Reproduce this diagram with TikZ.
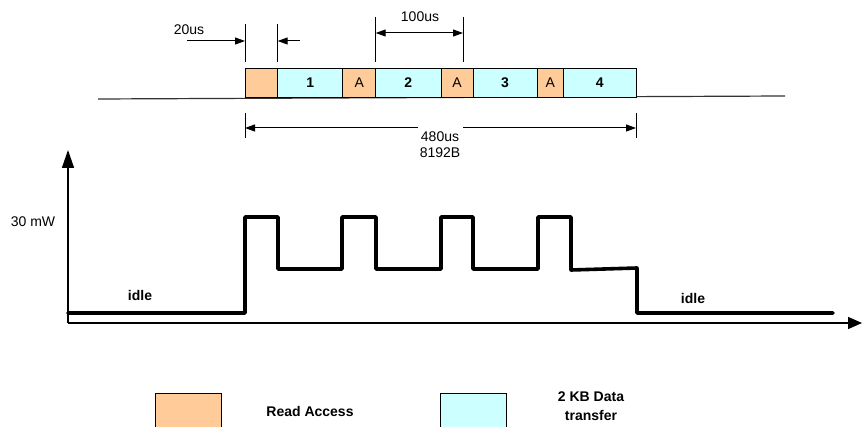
\documentclass[tikz,border=0pt]{standalone}
\usepackage{fontspec}
\setmainfont{Liberation Sans}
\usepackage{xcolor}
\definecolor{AccessOrange}{HTML}{FFCC99}
\definecolor{XferCyan}{HTML}{CCFFFF}
\usepackage{tikz}
\usetikzlibrary{arrows.meta,positioning}

\begin{document}
\begin{tikzpicture}[x=1pt, y=-1pt, >={Triangle[length=10pt,width=7pt]}, node distance=0pt,
  every node/.style={font=\fontsize{14}{19}\selectfont, align=center, inner sep=0pt, outer sep=0pt},
  rd/.style={draw, line width=0.8pt, fill=AccessOrange, minimum height=29pt},
  xfer/.style={draw, line width=0.8pt, fill=XferCyan, minimum height=29pt, font=\fontsize{14}{16}\selectfont\bfseries},
  dim/.style={line width=1pt},
  wave/.style={line width=3.6pt, line join=round, line cap=round}]
  \useasboundingbox (0,0) rectangle (862,427);

  % time line with the accesses and transfers
  \coordinate (baseL) at (98,99);
  \coordinate (baseR) at (785,96);
  \draw[line width=1.2pt, black!80] (baseL) -- (baseR);
  \node[rd, minimum width=32.7pt, anchor=north west] (r0) at (245,68) {};
  \node[xfer, minimum width=65pt, right=of r0] (x1) {1};
  \node[rd, minimum width=33pt, right=of x1] (a1) {A};
  \node[xfer, minimum width=65.3pt, right=of a1] (x2) {2};
  \node[rd, minimum width=32pt, right=of x2] (a2) {A};
  \node[xfer, minimum width=64pt, right=of a2] (x3) {3};
  \node[rd, minimum width=26.7pt, right=of x3] (a3) {A};
  \node[xfer, minimum width=72.3pt, right=of a3] (x4) {4};

  % 20us
  \draw[dim] (r0.north west |- 0,24) -- (r0.north west |- 0,62);
  \draw[dim] (x1.north west |- 0,24) -- (x1.north west |- 0,62);
  \node (t20) at (189,30) {20us};
  \coordinate (in20) at (187,41);
  \coordinate (out20) at (300,41);
  \draw[dim, ->] (in20) -- (in20 -| r0.north west);
  \draw[dim, ->] (out20) -- (out20 -| x1.north west);

  % 100us
  \coordinate (e100) at (463,17);
  \draw[dim] (x2.north west |- 0,17) -- (x2.north west |- 0,62);
  \draw[dim] (e100) -- (e100 |- 0,62);
  \node (t100) at (420,17) {100us};
  \draw[dim, <->] (x2.north west |- 0,33) -- (e100 |- 0,33);

  % 480us
  \draw[dim] (r0.south west |- 0,113) -- (r0.south west |- 0,138);
  \draw[dim] (x4.south east |- 0,113) -- (x4.south east |- 0,138);
  \node (t480) at (440,137) {480us};
  \node (b8192) at (440,153) {8192B};
  \coordinate (m480) at (440,128);
  \draw[dim, ->] ([xshift=-22pt]m480) -- (m480 -| r0.south west);
  \draw[dim, ->] ([xshift=23pt]m480) -- (m480 -| x4.south east);

  % power over time
  \coordinate (origin) at (68,323);
  \coordinate (ytip) at (68,150);
  \coordinate (xtip) at (862,323);
  \draw[line width=1.5pt, -{Triangle[length=18pt,width=12pt]}] (origin) -- (ytip);
  \draw[line width=1.5pt, -{Triangle[length=14pt,width=12pt]}] (origin) -- (xtip);
  \node (mw) at (33,222) {30 mW};
  \draw[wave] (68,313) -- (245,313) -- (245,217) -- (278,217) -- (278,269)
    -- (342,269) -- (342,217) -- (376,217) -- (376,269)
    -- (441,269) -- (441,217) -- (473,217) -- (473,269)
    -- (538,269) -- (538,217) -- (571,217) -- (571,270)
    -- (637,268) -- (637,313) -- (833,313);
  \node[font=\fontsize{14}{16}\selectfont\bfseries] (idleL) at (140,295) {idle};
  \node[font=\fontsize{14}{16}\selectfont\bfseries] (idleR) at (693,298) {idle};

  % legend
  \node[rd, minimum width=66pt, minimum height=40pt, anchor=north west] (kRd) at (155,393) {};
  \node[font=\fontsize{14}{16}\selectfont\bfseries] (lRd) at (310,411) {Read Access};
  \node[xfer, minimum width=66pt, minimum height=40pt, anchor=north west] (kXf) at (440,393) {};
  \node[font=\fontsize{14}{19}\selectfont\bfseries] (lXf) at (591,406) {2 KB Data\\transfer};
\end{tikzpicture}
\end{document}
